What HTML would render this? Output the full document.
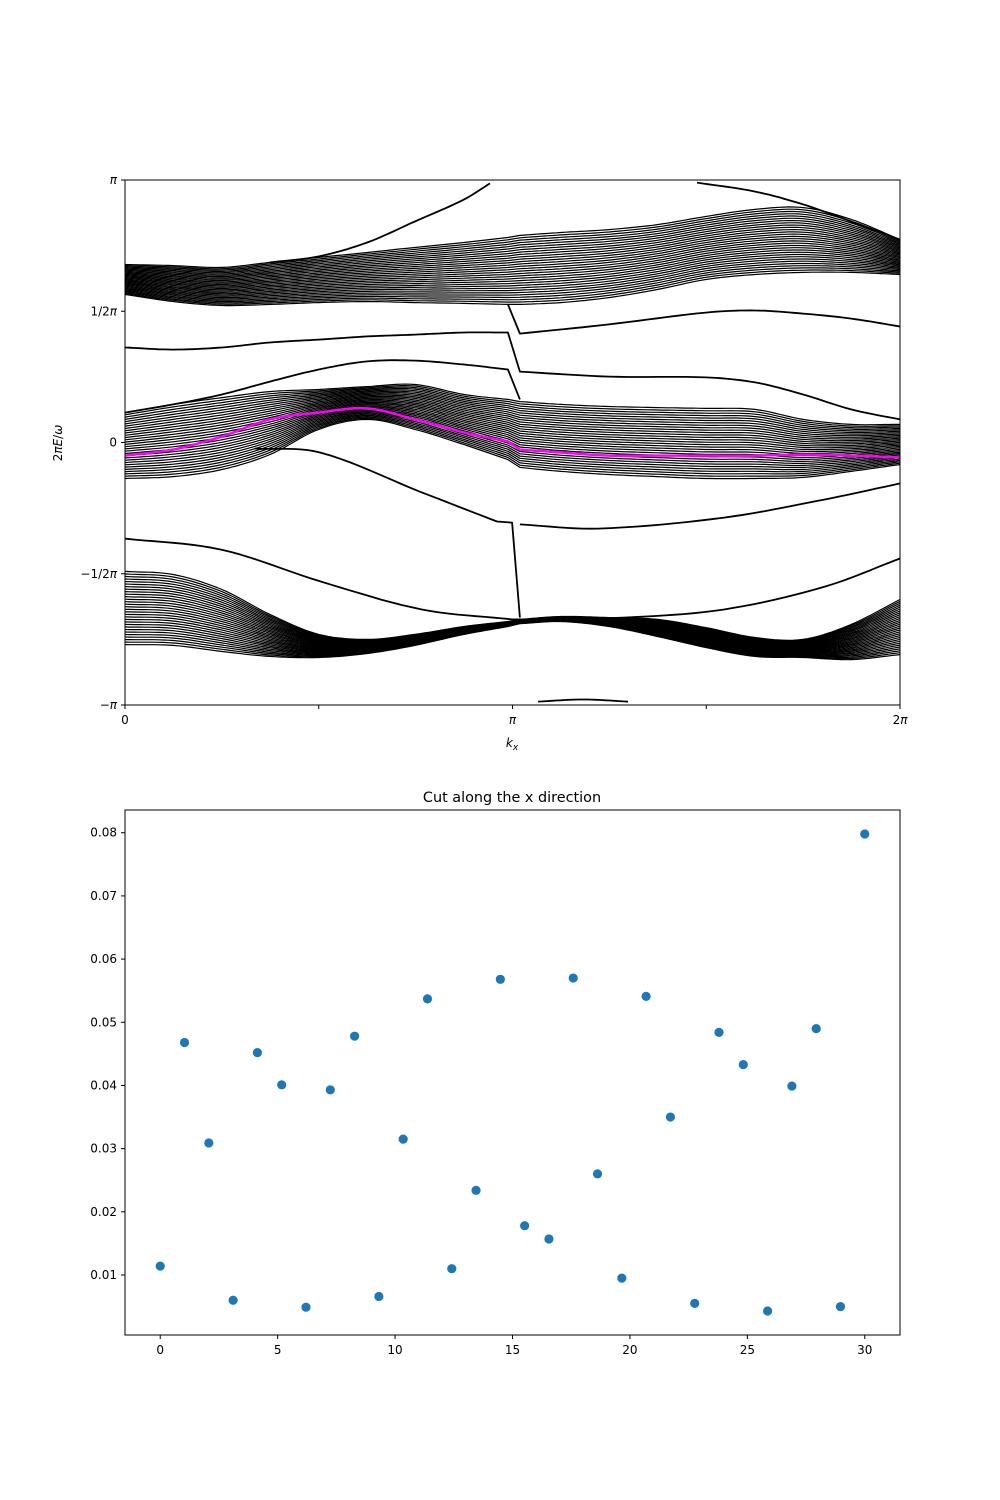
<!DOCTYPE html>
<html><head><meta charset="utf-8"><style>
body{margin:0;background:#fff;}
svg{display:block;font-family:"DejaVu Sans","Liberation Sans",sans-serif;}
</style></head><body>
<svg id="fig" width="1000" height="1500" viewBox="0 0 1000 1500">
<rect width="1000" height="1500" fill="#fff"/>
<g id="topPlot"></g>
<g id="botPlot"></g>
</svg>
<script>
// ---------- Band structure data (kx in units of pi, E in units of pi) ----------
const bandKx = [0,0.124,0.25,0.374,0.5,0.625,0.748,0.875,0.988,1.019,1.125,1.249,1.374,1.499,1.626,1.75,1.874,2];
const upperTop = [0.678,0.674,0.667,0.686,0.705,0.724,0.743,0.762,0.781,0.789,0.800,0.811,0.830,0.861,0.888,0.895,0.850,0.773];
const upperBot = [0.564,0.537,0.522,0.526,0.533,0.537,0.533,0.530,0.526,0.526,0.533,0.552,0.583,0.621,0.640,0.648,0.648,0.640];
const midTop = [0.114,0.145,0.171,0.194,0.202,0.213,0.221,0.183,0.164,0.156,0.145,0.137,0.133,0.130,0.126,0.088,0.069,0.069];
const midBot = [-0.137,-0.130,-0.103,-0.046,0.050,0.088,0.050,-0.008,-0.065,-0.095,-0.110,-0.122,-0.130,-0.137,-0.137,-0.133,-0.110,-0.084];
const lowTop = [-0.491,-0.503,-0.560,-0.655,-0.731,-0.750,-0.731,-0.701,-0.682,-0.674,-0.663,-0.667,-0.674,-0.705,-0.743,-0.750,-0.693,-0.598];
const lowBot = [-0.770,-0.773,-0.796,-0.815,-0.819,-0.804,-0.773,-0.731,-0.701,-0.690,-0.682,-0.701,-0.739,-0.781,-0.815,-0.819,-0.827,-0.808];
const magentaE = [-0.050,-0.027,0.023,0.088,0.114,0.130,0.088,0.038,0.004,-0.027,-0.038,-0.050,-0.050,-0.050,-0.050,-0.046,-0.050,-0.057];
const linesPerBand = 30;
const isoKx = [
 [0.374,0.5,0.625,0.748,0.875,0.942],
 [1.476,1.626,1.75,1.874,2],
 [0.988,1.019,1.249,1.499,1.626,1.75,1.874,2],
 [0,0.124,0.25,0.374,0.5,0.625,0.748,0.875,0.988,1.019,1.249,1.499,1.626,1.75,1.874,2],
 [0,0.124,0.25,0.374,0.5,0.625,0.748,0.875,0.988,1.019],
 [0.335,0.503,0.766,0.96,0.999,1.019],
 [1.019,1.221,1.546,1.806,2],
 [0,0.248,0.506,0.766,0.999,1.027,1.285,1.546,1.806,2],
 [1.066,1.182,1.298]
];
const isoE = [
 [0.686,0.709,0.762,0.842,0.926,0.987],
 [0.990,0.956,0.907,0.842,0.773],
 [0.526,0.415,0.450,0.495,0.503,0.491,0.472,0.442],
 [0.362,0.354,0.362,0.381,0.392,0.404,0.411,0.419,0.419,0.270,0.251,0.248,0.229,0.183,0.126,0.088],
 [0.114,0.145,0.183,0.232,0.278,0.309,0.312,0.297,0.278,0.164],
 [-0.023,-0.038,-0.190,-0.301,-0.305,-0.667],
 [-0.312,-0.328,-0.286,-0.217,-0.156],
 [-0.366,-0.408,-0.530,-0.636,-0.674,-0.674,-0.667,-0.636,-0.549,-0.442],
 [-0.987,-0.979,-0.987]
];
const topYTicks = [1,0.5,0,-0.5,-1];
const topYLabels = ['<tspan font-style="italic">π</tspan>','1/2<tspan font-style="italic">π</tspan>','0','−1/2<tspan font-style="italic">π</tspan>','−<tspan font-style="italic">π</tspan>'];
const topXTicks = [0,0.5,1,1.5,2];
const topXLabels = ['0','','<tspan font-style="italic">π</tspan>','','2<tspan font-style="italic">π</tspan>'];

// ---------- Scatter data ----------
const cutValues = [0.0114,0.0468,0.0309,0.0060,0.0452,0.0401,0.0049,0.0393,0.0478,0.0066,0.0315,0.0537,0.0110,0.0234,0.0568,0.0178,0.0157,0.0570,0.0260,0.0095,0.0541,0.0350,0.0055,0.0484,0.0433,0.0043,0.0399,0.0490,0.0050,0.0798];
const cutXMax = 30;
const botXTicks = [0,5,10,15,20,25,30];
const botYTicks = [0.01,0.02,0.03,0.04,0.05,0.06,0.07,0.08];

const NS="http://www.w3.org/2000/svg";
function mk(tag,attrs,parent){const e=document.createElementNS(NS,tag);for(const k in attrs)e.setAttribute(k,attrs[k]);parent.appendChild(e);return e;}

const T={x0:125,x1:900,y0:180,y1:705};
const tx=k=>T.x0+(k/2)*(T.x1-T.x0);
const ty=e=>(T.y0+T.y1)/2-e*(T.y1-T.y0)/2;
const topG=document.getElementById('topPlot');
const JUMP=0.05;
function smoothPts(kx,E){
  const n=kx.length, m=[];
  for(let i=0;i<n;i++){
    const leftOk=i>0 && (kx[i]-kx[i-1])>JUMP;
    const rightOk=i<n-1 && (kx[i+1]-kx[i])>JUMP;
    if(leftOk&&rightOk) m.push((E[i+1]-E[i-1])/(kx[i+1]-kx[i-1]));
    else if(rightOk) m.push((E[i+1]-E[i])/(kx[i+1]-kx[i]));
    else if(leftOk) m.push((E[i]-E[i-1])/(kx[i]-kx[i-1]));
    else m.push(0);
  }
  const pts=[[kx[0],E[0]]];
  for(let i=0;i<n-1;i++){
    const h=kx[i+1]-kx[i];
    if(h<=JUMP){pts.push([kx[i+1],E[i+1]]);continue;}
    const S=10;
    for(let s=1;s<=S;s++){
      const t=s/S,t2=t*t,t3=t2*t;
      const v=(2*t3-3*t2+1)*E[i]+(t3-2*t2+t)*h*m[i]+(-2*t3+3*t2)*E[i+1]+(t3-t2)*h*m[i+1];
      pts.push([kx[i]+t*h,v]);
    }
  }
  return pts;
}
function poly(kx,E,color,w,name){
  const p=smoothPts(kx,E).map(q=>tx(q[0]).toFixed(1)+','+ty(q[1]).toFixed(1)).join(' ');
  const el=mk('polyline',{points:p,fill:'none',stroke:color,'stroke-width':w,'stroke-linejoin':'round'},topG);
  
  
}
[[upperTop,upperBot,'upper'],[midTop,midBot,'middle'],[lowTop,lowBot,'lower']].forEach(([a,b,nm])=>{
  for(let j=0;j<linesPerBand;j++){
    const t=j/(linesPerBand-1);
    const E=a.map((v,i)=>v+(b[i]-v)*t);
    poly(bandKx,E,'#000',1.2,nm+'-band-line');
  }
});
isoKx.forEach((k,i)=>poly(k,isoE[i],'#000',1.8,'isolated-band-line'));
poly(bandKx,magentaE,'#ff00ff',2.5,'highlighted-band-line');
const fr=mk('rect',{x:T.x0,y:T.y0,width:T.x1-T.x0,height:T.y1-T.y0,fill:'none',stroke:'#000','stroke-width':1},topG);


topYTicks.forEach((v,i)=>{
  const y=ty(v);
  mk('line',{x1:T.x0-4,x2:T.x0,y1:y,y2:y,stroke:'#000'},topG);
  const t=mk('text',{x:T.x0-8,y:y+4,'text-anchor':'end','font-size':12},topG);
  t.innerHTML=topYLabels[i];
  
  
});
topXTicks.forEach((v,i)=>{
  const x=tx(v);
  mk('line',{x1:x,x2:x,y1:T.y1,y2:T.y1+4,stroke:'#000'},topG);
  const t=mk('text',{x:x,y:T.y1+19,'text-anchor':'middle','font-size':12},topG);
  t.innerHTML=topXLabels[i];
  
  
});
const xl=mk('text',{x:512,y:747,'text-anchor':'middle','font-size':12,'font-style':'italic'},topG);
xl.innerHTML='k<tspan font-size="9" dy="3">x</tspan>';


const yl=mk('text',{x:0,y:0,'text-anchor':'middle','font-size':12,transform:'translate(62,443) rotate(-90)'},topG);
yl.innerHTML='2<tspan font-style="italic">πE</tspan>/<tspan font-style="italic">ω</tspan>';



const B={x0:125,x1:900,y0:810,y1:1335,xmin:-1.5,xmax:31.5,ymin:0.0005,ymax:0.0836};
const bx=v=>B.x0+(v-B.xmin)/(B.xmax-B.xmin)*(B.x1-B.x0);
const by=v=>B.y1-(v-B.ymin)/(B.ymax-B.ymin)*(B.y1-B.y0);
const botG=document.getElementById('botPlot');
cutValues.forEach((v,i)=>{
  const xv=i*cutXMax/(cutValues.length-1);
  const c=mk('circle',{cx:bx(xv),cy:by(v),r:4.6,fill:'#1f77b4'},botG);
  
  
});
const fr2=mk('rect',{x:B.x0,y:B.y0,width:B.x1-B.x0,height:B.y1-B.y0,fill:'none',stroke:'#000','stroke-width':1},botG);


botXTicks.forEach(v=>{
  const x=bx(v);
  mk('line',{x1:x,x2:x,y1:B.y1,y2:B.y1+4,stroke:'#000'},botG);
  const t=mk('text',{x:x,y:B.y1+19,'text-anchor':'middle','font-size':12},botG);
  t.textContent=String(v);
  
  
});
botYTicks.forEach(v=>{
  const y=by(v);
  mk('line',{x1:B.x0-4,x2:B.x0,y1:y,y2:y,stroke:'#000'},botG);
  const t=mk('text',{x:B.x0-8,y:y+4,'text-anchor':'end','font-size':12},botG);
  t.textContent=v.toFixed(2);
  
  
});
const ti=mk('text',{x:512,y:802,'text-anchor':'middle','font-size':14.4},botG);
ti.textContent='Cut along the x direction';


</script>
</body></html>
